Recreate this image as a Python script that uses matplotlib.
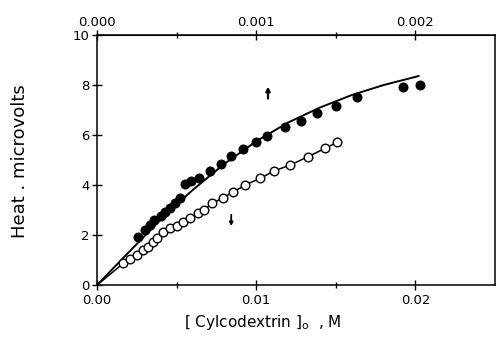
import matplotlib
matplotlib.use("Agg")
import matplotlib.pyplot as plt
from matplotlib.ticker import FixedLocator, FormatStrFormatter

plt.rcParams['font.family'] = ['DejaVu Sans']

# Filled circles (upper series)
filled_x = [0.0026, 0.0030, 0.0033, 0.0036, 0.0040, 0.0043, 0.0046, 0.0049, 0.0052,
            0.0055, 0.0059, 0.0064, 0.0071, 0.0078, 0.0084, 0.0092, 0.0100, 0.0107,
            0.0118, 0.0128, 0.0138, 0.0150, 0.0163, 0.0192, 0.0203]
filled_y = [1.91, 2.20, 2.40, 2.60, 2.75, 2.93, 3.10, 3.30, 3.50,
            4.05, 4.15, 4.30, 4.55, 4.83, 5.17, 5.43, 5.73, 5.97,
            6.33, 6.57, 6.87, 7.16, 7.51, 7.91, 8.00]

# Fitted curve for the filled series
fit_x = [0.0, 0.002, 0.004, 0.006, 0.008, 0.010, 0.012, 0.014, 0.016, 0.018, 0.0202]
fit_y = [0.0, 1.32, 2.62, 3.80, 4.85, 5.75, 6.50, 7.10, 7.60, 8.00, 8.36]

# Open circles (lower series)
open_x = [0.00165, 0.00208, 0.0025, 0.00291, 0.00323, 0.00354, 0.00377, 0.00417, 0.00459,
          0.00501, 0.00543, 0.00585, 0.00637, 0.00673, 0.00725, 0.00791, 0.00857, 0.00931,
          0.01025, 0.01113, 0.01214, 0.01323, 0.01434, 0.01508]
open_y = [0.87, 1.04, 1.20, 1.40, 1.53, 1.73, 1.90, 2.13, 2.27,
          2.37, 2.53, 2.69, 2.87, 3.02, 3.27, 3.49, 3.73, 4.00,
          4.27, 4.57, 4.80, 5.13, 5.47, 5.71]

bottom_ticks = [0.00, 0.01, 0.02]
top_ticks = [0.000, 0.001, 0.002]
y_ticks = [0, 2, 4, 6, 8, 10]

fig = plt.figure(figsize=(4.96, 3.37), dpi=100)
ax = fig.add_axes([0.1956, 0.154, 0.8024, 0.742])

ax.plot(fit_x, fit_y, color='black', lw=1.4, zorder=2)
ax.plot(filled_x, filled_y, 'o', color='black', ms=6.2, zorder=3)
ax.plot([0.0] + open_x, [0.0] + open_y, '-', color='black', lw=1.1, zorder=2)
ax.plot(open_x, open_y, 'o', mfc='white', mec='black', mew=1.0, ms=6.2, zorder=4)

# arrows
ax.annotate('', xy=(0.01074, 8.05), xytext=(0.01074, 7.35),
            arrowprops=dict(arrowstyle='-|>', color='black', lw=1.6, mutation_scale=6))
ax.annotate('', xy=(0.00843, 2.25), xytext=(0.00843, 2.92),
            arrowprops=dict(arrowstyle='-|>', color='black', lw=1.3, mutation_scale=5))

ax.set_xlim(0, 0.025)
ax.set_ylim(0, 10)
ax.xaxis.set_major_locator(FixedLocator(bottom_ticks))
ax.xaxis.set_minor_locator(FixedLocator([0.005, 0.015]))
ax.xaxis.set_major_formatter(FormatStrFormatter('%.2f'))
ax.yaxis.set_major_locator(FixedLocator(y_ticks))
ax.tick_params(axis='both', which='major', direction='inout', length=7, width=1.0,
               labelsize=9.5)
ax.tick_params(axis='x', which='major', pad=3)
ax.tick_params(axis='y', which='major', pad=2)
ax.tick_params(axis='x', which='minor', direction='inout', length=5, width=1.0)

sec = ax.secondary_xaxis('top', functions=(lambda v: v / 10.0, lambda v: v * 10.0))
sec.xaxis.set_major_locator(FixedLocator(top_ticks))
sec.xaxis.set_minor_locator(FixedLocator([0.0005, 0.0015]))
sec.xaxis.set_major_formatter(FormatStrFormatter('%.3f'))
sec.tick_params(axis='x', which='major', direction='inout', length=7, width=1.0,
                labelsize=9.5, pad=1)
sec.tick_params(axis='x', which='minor', direction='inout', length=5, width=1.0)

for s in ax.spines.values():
    s.set_linewidth(1.1)

fig.text(263 / 496, 1 - 323 / 337, r'[ Cylcodextrin ]$_{\mathrm{o}}$  , M',
         fontsize=11, ha='center', va='center')
fig.text(20 / 496, 1 - 161 / 337, 'Heat . microvolts', fontsize=13,
         rotation=90, ha='center', va='center')

fig.savefig('out.png', dpi=100)
